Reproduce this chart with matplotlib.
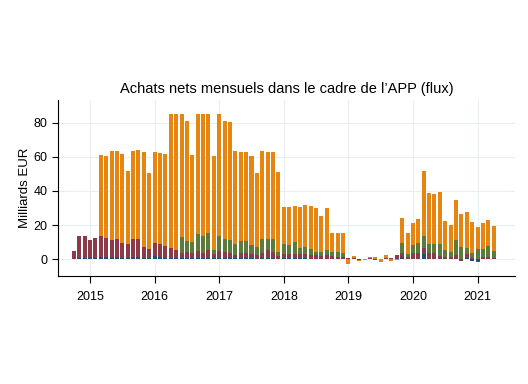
"""Achats nets mensuels dans le cadre de l'APP (flux) - stacked monthly bars."""

import numpy as np
import pandas as pd
import matplotlib.pyplot as plt


# months Oct 2014 .. Apr 2021
months = pd.date_range('2014-10-01', '2021-04-01', freq='MS')

# Milliards EUR
abspp = [0, 0.8, 0.8,
         0.8, 0.8, 1.0, 1.0, 1.0, 1.0, 0.8, 0.8, 1.2, 1.5, 0.8, 0.6,
         1.8, 1.0, 0.8, 0.6, 0.6, 0.4, 0.6, 0.5, 0.6, 0.5, 0.8, 0.4,
         0.6, 0.5, 0.5, 0.4, 0.5, 0.4, 0.4, 0.3, 0.5, 0.5, 0.5, 0.3,
         0.4, 0.4, 0.4, 0.4, 0.4, 0.3, 0.3, 0.2, 0.3, 0.2, 0.2, 0.2,
         0.2, 0, -0.3, 0, 0, 0, 0, 0, 0, 0.3, 1.0, 0.2,
         0.3, 0.3, 3.0, 0.3, 0.3, 0.2, 0.2, 0.2, 0.3, 0.3, 0.5, -1.0,
         -1.0, 0.2, 0.2, 0.2]
cbpp3 = [4.7, 12.7, 12.7,
         10.4, 11.4, 12.7, 11.5, 10.4, 10.6, 8.8, 7.8, 10.6, 10.1, 6.3, 5.1,
         7.4, 7.6, 7.0, 5.7, 4.7, 2.9, 3.7, 2.8, 4.3, 3.2, 4.5, 2.3,
         4.3, 3.8, 3.2, 2.0, 3.2, 2.9, 2.5, 2.1, 3.2, 4.8, 3.8, 1.5,
         2.5, 2.5, 2.3, 2.3, 2.5, 2.1, 2.1, 1.5, 1.8, 1.5, 1.3, 0.8,
         0.4, 0.4, 0.3, 0.3, 0.5, -0.8, 0.3, 0.6, 0.8, 2.3, 2.5, 0.8,
         3.4, 3.4, 3.7, 3.4, 3.4, 1.6, 1.3, 0.8, 2.0, -1.0, 2.5, 0.6,
         -0.5, 0.8, 0.8, 0.5]
cspp = [0, 0, 0,
        0, 0, 0, 0, 0, 0, 0, 0, 0, 0, 0, 0,
        0, 0, 0, 0, 0, 9.8, 6.1, 6.5, 9.8, 9.8, 9.8, 2.6,
        8.6, 7.5, 7.5, 6.2, 7.1, 7.3, 5.3, 4.9, 8.1, 6.5, 7.5, 2.5,
        5.9, 5.3, 7.3, 3.6, 4.0, 3.3, 1.9, 2.4, 3.2, 2.6, 2.5, 2.5,
        0, 0.2, 0, 0, 0.2, 0, 0, 0, 0, 0, 6.1, 2.0,
        4.7, 5.5, 7.0, 5.3, 5.3, 7.2, 3.8, 3.1, 8.7, 6.7, 3.3, 3.1,
        6.0, 4.7, 6.5, 4.2]
pspp = [0, 0, 0,
        0, 0, 47.3, 47.9, 51.9, 51.7, 52.2, 43.2, 51.5, 52.4, 55.6, 44.9,
        53.5, 53.7, 53.8, 79.0, 80.0, 72.2, 70.6, 51.2, 70.6, 71.8, 70.2, 55.5,
        71.8, 69.0, 69.2, 54.9, 52.1, 52.1, 52.4, 43.5, 51.5, 51.1, 51.1, 46.7,
        21.6, 22.2, 21.2, 24.5, 24.9, 25.5, 25.9, 21.2, 24.9, 10.8, 11.1, 11.6,
        -2.8, 1.2, -0.8, -0.5, 0.8, 1.5, -1.8, 1.5, -1.2, -0.8, 14.7, 12.5,
        12.6, 14.5, 38.1, 29.8, 29.2, 30.4, 17.0, 15.7, 23.9, 19.7, 21.5, 18.1,
        13.0, 15.5, 15.5, 14.5]

series = [abspp, cbpp3, cspp, pspp]
colors = ['#1f4e79', '#8c3a4a', '#5b7b3b', '#e6850f']

x = months.year + (months.month - 1) / 12.0

plt.rcParams['font.family'] = ['Liberation Sans', 'DejaVu Sans']

fig = plt.figure(figsize=(5.28, 3.84), dpi=100)
ax = fig.add_axes([0.110, 0.281, 0.865, 0.459])

# stack positives up and negatives down
pos_base = np.zeros(len(x))
neg_base = np.zeros(len(x))
for vals, col in zip(series, colors):
    vals = np.array(vals, dtype=float)
    base = np.where(vals >= 0, pos_base, neg_base)
    ax.bar(x, vals, bottom=base, width=0.062, color=col, linewidth=0, zorder=3)
    pos_base += np.clip(vals, 0, None)
    neg_base += np.clip(vals, None, 0)

ax.set_xlim(2014.505, 2021.577)
ax.set_ylim(-10, 93.5)
ax.set_xticks(range(2015, 2022))
ax.set_yticks([0, 20, 40, 60, 80])
ax.grid(True, color='#e9eef1', linewidth=0.8, zorder=0)
ax.spines['top'].set_visible(False)
ax.spines['right'].set_visible(False)
ax.tick_params(labelsize=9, length=4, width=0.8)
ax.tick_params(axis='x', length=5, pad=6)
ax.set_ylabel('Milliards EUR', fontsize=9.5, labelpad=2)
ax.set_title("Achats nets mensuels dans le cadre de l\u2019APP (flux)", fontsize=10.5, pad=5)

fig.savefig('out.png', dpi=100)
